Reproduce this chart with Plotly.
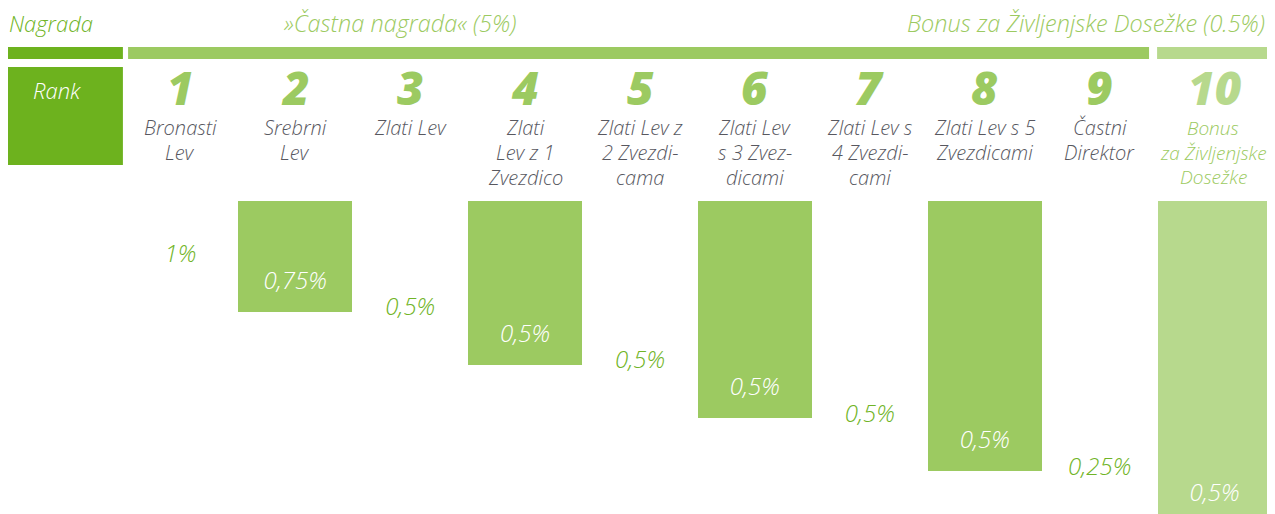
import plotly.graph_objects as go

# ---- data ----
ranks = [1, 2, 3, 4, 5, 6, 7, 8, 9, 10]
names = [
    "Bronasti<br>Lev",
    "Srebrni<br>Lev",
    "Zlati Lev",
    "Zlati<br>Lev z 1<br>Zvezdico",
    "Zlati Lev z<br>2 Zvezdi-<br>cama",
    "Zlati Lev<br>s 3 Zvez-<br>dicami",
    "Zlati Lev s<br>4 Zvezdi-<br>cami",
    "Zlati Lev s 5<br>Zvezdicami",
    "Častni<br>Direktor",
    "Bonus<br>za Življenjske<br>Dosežke",
]
percent_values = [1, 0.75, 0.5, 0.5, 0.5, 0.5, 0.5, 0.5, 0.25, 0.5]
header_left = "Nagrada"
header_mid = "»Častna nagrada« (5%)"
header_right = "Bonus za Življenjske Dosežke (0.5%)"
rank_title = "Rank"

# ---- styling ----
OFF = 8                      # page body margin
W, H = 1275 - OFF, 514 - OFF
FONT = "Open Sans"
DARK = "#6db21e"
LIGHT = "#9cca61"
PALE = "#b7d98d"
TEXT_GREEN = "#70b426"
GRAY = "#58585f"
STEP = 26.6                  # px per rank level
TOP = 201 - OFF              # px of bar tops

def py(px):
    return 1 - (px - OFF) / H

labels = [f"{v:g}".replace(".", ",") + "%" for v in percent_values]
shown = [r % 2 == 0 for r in ranks]
bar_colors = []
for r, s in zip(ranks, shown):
    if not s:
        bar_colors.append("rgba(0,0,0,0)")
    elif r == ranks[-1]:
        bar_colors.append(PALE)
    else:
        bar_colors.append(LIGHT)

bar_depth = [r + 2.16 for r in ranks]
label_level = [r + 1.07 for r in ranks]
label_colors = ["white" if s else TEXT_GREEN for s in shown]

fig = go.Figure()
fig.add_trace(go.Bar(
    x=ranks, y=bar_depth, base=0, width=0.99,
    marker=dict(color=bar_colors, line=dict(width=0)),
    hoverinfo="skip",
))
fig.add_trace(go.Scatter(
    x=ranks, y=label_level, mode="text", text=labels,
    textfont=dict(family=FONT, size=24, color=label_colors, style="italic", weight=300),
    hoverinfo="skip",
))

shapes = [
    dict(type="rect", xref="x", yref="paper", x0=-0.5, x1=0.5, y0=py(59), y1=py(47),
         fillcolor=DARK, line_width=0, layer="below"),
    dict(type="rect", xref="x", yref="paper", x0=0.545, x1=9.43, y0=py(59), y1=py(47),
         fillcolor=LIGHT, line_width=0, layer="below"),
    dict(type="rect", xref="x", yref="paper", x0=9.5, x1=10.5, y0=py(59), y1=py(47),
         fillcolor=PALE, line_width=0, layer="below"),
    dict(type="rect", xref="x", yref="paper", x0=-0.5, x1=0.5, y0=py(165), y1=py(67),
         fillcolor=DARK, line_width=0, layer="below"),
]

ann = []
HY = py(23)
ann.append(dict(x=-0.5, y=HY, xref="x", yref="paper", xanchor="left", yanchor="middle",
                text=header_left, showarrow=False, borderpad=0,
                font=dict(family=FONT, size=22, color=TEXT_GREEN, style="italic", weight=300)))
ann.append(dict(x=2.91, y=HY, xref="x", yref="paper", xanchor="center", yanchor="middle",
                text=header_mid, showarrow=False, borderpad=0,
                font=dict(family=FONT, size=23.5, color=LIGHT, style="italic", weight=300)))
ann.append(dict(x=10.45, y=HY, xref="x", yref="paper", xanchor="right", yanchor="middle",
                text=header_right, showarrow=False, borderpad=0,
                font=dict(family=FONT, size=23.5, color=LIGHT, style="italic", weight=300)))
ann.append(dict(x=-0.07, y=py(90), xref="x", yref="paper", xanchor="center", yanchor="middle",
                text=rank_title, showarrow=False,
                font=dict(family=FONT, size=22, color="white", style="italic", weight=300)))
for r, n in zip(ranks, names):
    last = r == ranks[-1]
    c = PALE if last else LIGHT
    ann.append(dict(x=r, y=py(87), xref="x", yref="paper", xanchor="center", yanchor="middle",
                    text=str(r), showarrow=False, borderpad=0,
                    font=dict(family=FONT, size=46, color=c, style="italic", weight=800)))
    nc = LIGHT if last else GRAY
    for i, line in enumerate(n.split("<br>")):
        ann.append(dict(x=r - (0.01 if last else 0), y=py(128 + 24.5 * i), xref="x", yref="paper",
                        xanchor="center", yanchor="middle", borderpad=0,
                        text=line, showarrow=False,
                        font=dict(family=FONT, size=19 if last else 20, color=nc,
                                  style="italic", weight=300)))

y_lo = (0 - TOP) / STEP
y_hi = (H - TOP) / STEP

fig.update_layout(
    width=W, height=H,
    margin=dict(l=0, r=3, t=0, b=0),
    paper_bgcolor="white", plot_bgcolor="white",
    showlegend=False, bargap=0,
    xaxis=dict(range=[-0.5, 10.5], visible=False, fixedrange=True),
    yaxis=dict(range=[y_hi, y_lo], visible=False, fixedrange=True),
    shapes=shapes, annotations=ann,
)
fig.write_html("out.html")
